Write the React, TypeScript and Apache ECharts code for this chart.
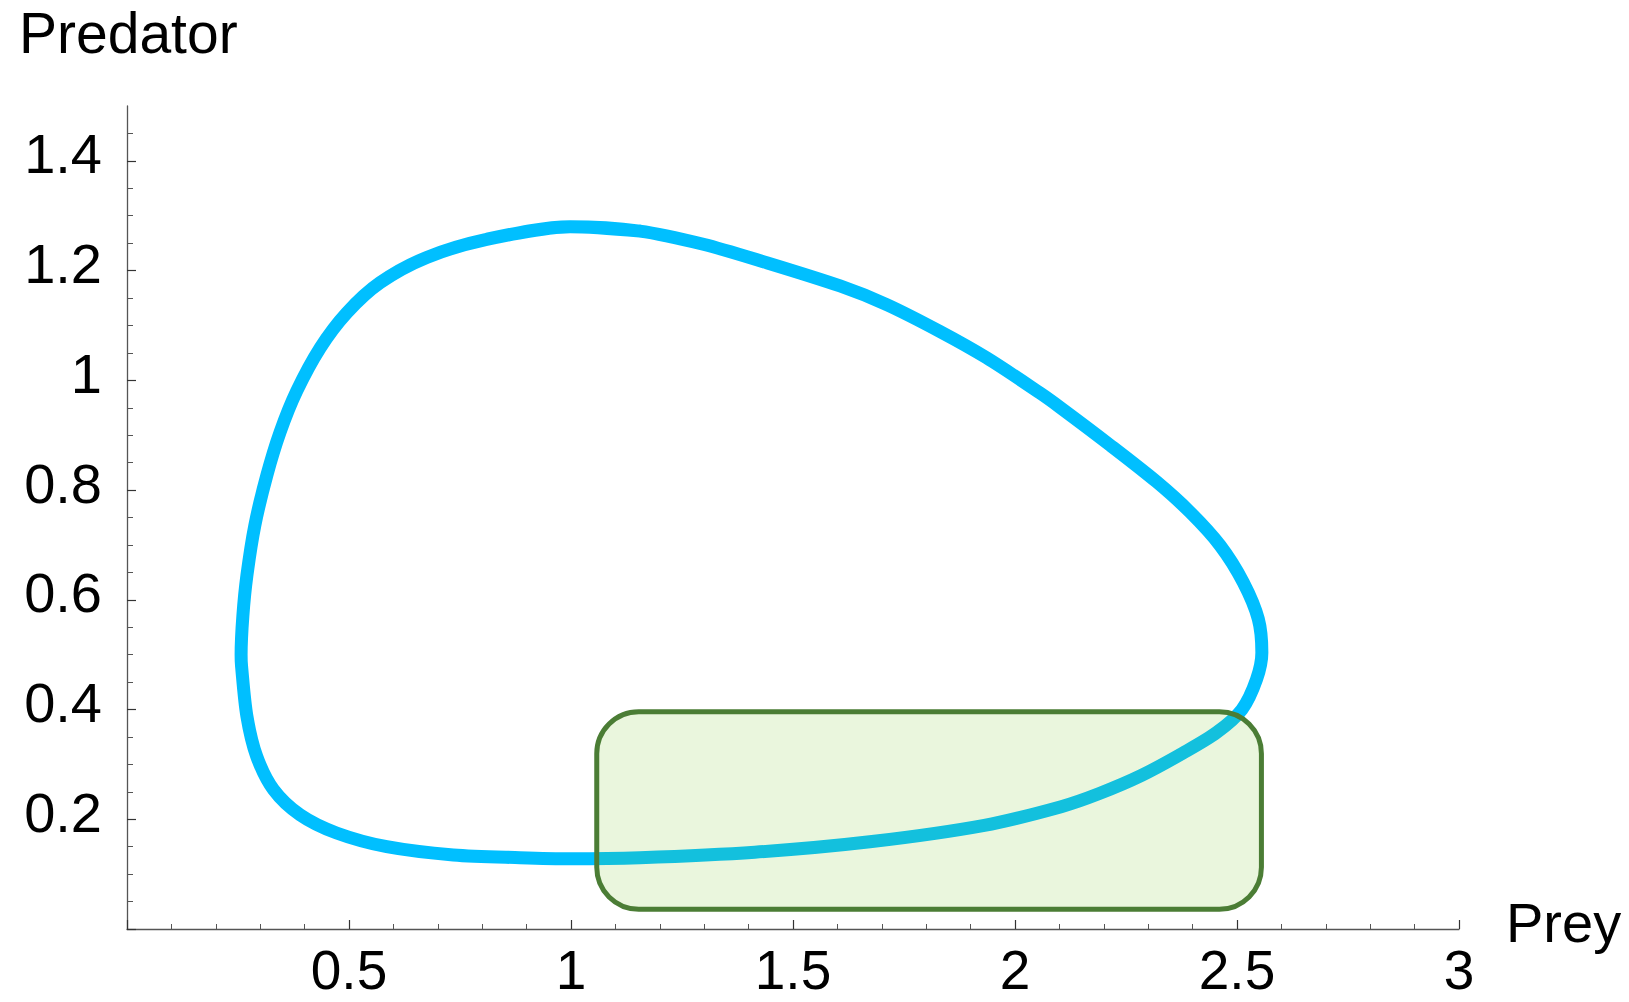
import React, { useEffect, useRef } from "react";
import * as echarts from "echarts";

// Orbit of the predator–prey system: [prey, predator]
const orbitPrey = [
  0.81, 0.998, 1.155, 1.298, 1.426, 1.606, 1.711, 1.831, 1.936, 2.056, 2.101, 2.214, 2.319, 2.394, 2.462,
  2.514, 2.548, 2.556, 2.544, 2.511, 2.454, 2.379, 2.285, 2.19, 2.104, 1.931, 1.673, 1.414, 1.155, 1.0,
  0.885, 0.735, 0.585, 0.472, 0.39, 0.33, 0.292, 0.27, 0.258, 0.257, 0.261, 0.27, 0.288, 0.315, 0.345,
  0.382, 0.435, 0.495, 0.57, 0.675, 0.81, 0.998, 1.155,
];
const orbitPredator = [
  1.257, 1.28, 1.272, 1.248, 1.218, 1.172, 1.138, 1.089, 1.041, 0.977, 0.951, 0.882, 0.815, 0.76, 0.699,
  0.632, 0.565, 0.504, 0.455, 0.4, 0.358, 0.321, 0.28, 0.247, 0.223, 0.189, 0.159, 0.14, 0.13, 0.128,
  0.13, 0.135, 0.15, 0.175, 0.208, 0.254, 0.315, 0.388, 0.479, 0.5, 0.571, 0.644, 0.736, 0.827, 0.906,
  0.98, 1.059, 1.123, 1.178, 1.224, 1.257, 1.28, 1.272,
];

// Highlighted region (rounded rectangle): prey range and predator range
const regionPrey = [1.058, 2.555];
const regionPredator = [0.036, 0.396];

// Axes
const xRange = [0, 3];
const yRange = [0, 1.5];
const yMajorTicks = [0, 0.2, 0.4, 0.6, 0.8, 1.0, 1.2, 1.4];
const yLabelTicks = [0.2, 0.4, 0.6, 0.8, 1.0, 1.2, 1.4];
const yMinorTicks = [
  0.05, 0.1, 0.15, 0.25, 0.3, 0.35, 0.45, 0.5, 0.55, 0.65, 0.7, 0.75, 0.85, 0.9, 0.95, 1.05, 1.1, 1.15,
  1.25, 1.3, 1.35, 1.45,
];
const xAxisTitle = "Prey";
const yAxisTitle = "Predator";

const FONT = "'Liberation Sans', Arial, Helvetica, sans-serif";
const AXIS_COLOR = "#555555";

export default function App() {
  const ref = useRef<HTMLDivElement>(null);

  useEffect(() => {
    if (!ref.current) return;
    const chart = echarts.init(ref.current, null, { renderer: "svg" });
    const orbit = orbitPrey.map((x, i) => [x, orbitPredator[i]]);

    chart.setOption({
      animation: false,
      backgroundColor: "#ffffff",
      grid: { left: 127, right: 170, top: 106, bottom: 73, outerBoundsMode: "none" },
      xAxis: {
        type: "value",
        min: xRange[0],
        max: xRange[1],
        interval: 0.5,
        axisLine: { show: true, onZero: false, lineStyle: { color: AXIS_COLOR, width: 1.3 } },
        axisTick: { show: true, inside: true, length: 9, lineStyle: { color: "#333", width: 1.2 } },
        minorTick: { show: true, splitNumber: 5, length: 5, lineStyle: { color: "#555", width: 1 } },
        splitLine: { show: false },
        minorSplitLine: { show: false },
        axisLabel: {
          showMinLabel: false,
          margin: 20,
          lineHeight: 42,
          fontSize: 55,
          fontFamily: FONT,
          color: "#000",
        },
      },
      yAxis: [
        {
          type: "value",
          min: yRange[0],
          max: yRange[1],
          axisLine: { show: true, onZero: false, lineStyle: { color: AXIS_COLOR, width: 1.3 } },
          axisTick: {
            show: true,
            inside: true,
            length: 9,
            customValues: yMajorTicks,
            lineStyle: { color: "#333", width: 1.2 },
          },
          splitLine: { show: false },
          axisLabel: {
            customValues: yLabelTicks,
            margin: 25,
            fontSize: 56,
            lineHeight: 14,
            verticalAlign: "bottom",
            fontFamily: FONT,
            color: "#000",
          },
        },
        {
          type: "value",
          position: "left",
          min: yRange[0],
          max: yRange[1],
          axisLine: { show: false },
          axisTick: {
            show: true,
            inside: true,
            length: 6,
            customValues: yMinorTicks,
            lineStyle: { color: "#555", width: 1 },
          },
          splitLine: { show: false },
          axisLabel: { show: false },
        },
      ],
      series: [
        {
          type: "line",
          data: orbit,
          showSymbol: false,
          symbol: "none",
          smooth: 0.3,
          lineStyle: { color: "#00bfff", width: 13, cap: "round", join: "round" },
          z: 2,
        },
        {
          type: "custom",
          data: [[regionPrey[0], regionPredator[0], regionPrey[1], regionPredator[1]]],
          encode: { x: [0, 2], y: [1, 3] },
          z: 3,
          renderItem: (params: any, api: any) => {
            const tl = api.coord([api.value(0), api.value(3)]);
            const br = api.coord([api.value(2), api.value(1)]);
            return {
              type: "rect",
              shape: { x: tl[0], y: tl[1], width: br[0] - tl[0], height: br[1] - tl[1], r: 42 },
              style: {
                fill: "rgba(121,197,38,0.157)",
                stroke: "#4b7d35",
                lineWidth: 5,
              },
            };
          },
        },
      ],
      graphic: [
        {
          type: "text",
          x: 19,
          y: 33,
          style: {
            text: yAxisTitle,
            fontSize: 57,
            fontFamily: FONT,
            fill: "#000",
            align: "left",
            verticalAlign: "middle",
          },
        },
        {
          type: "text",
          x: 1506,
          y: 922,
          style: {
            text: xAxisTitle,
            fontSize: 56,
            fontFamily: FONT,
            fill: "#000",
            align: "left",
            verticalAlign: "middle",
          },
        },
      ],
    });

    return () => chart.dispose();
  }, []);

  return (
    <div
      ref={ref}
      style={{ position: "fixed", left: 0, top: 0, width: "1629px", height: "1002px", background: "#fff" }}
    />
  );
}
